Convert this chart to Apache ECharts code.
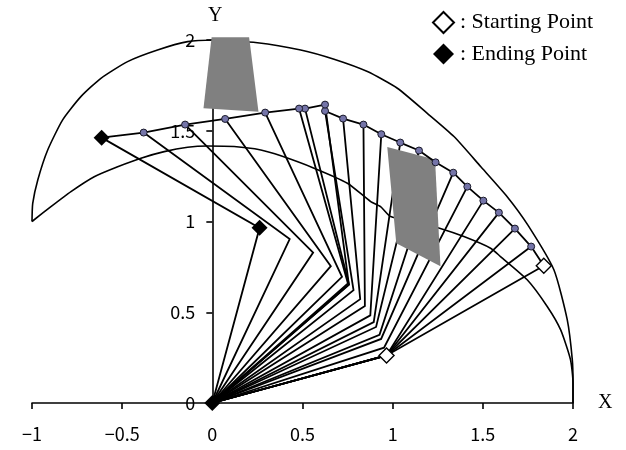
<!DOCTYPE html>
<html><head><meta charset="utf-8">
<script src="https://cdn.jsdelivr.net/npm/echarts@6/dist/echarts.min.js"></script>
<style>html,body{margin:0;padding:0;background:#fff}#c{width:626px;height:450px}</style>
</head><body><div id="c"></div>
<script>
// tick labels
const xTickValues = [-1, -0.5, 0, 0.5, 1, 1.5, 2];
const xTickLabels = ['\u22121', '\u22120.5', '0', '0.5', '1', '1.5', '2'];
const yTickValues = [0, 0.5, 1, 1.5, 2];
const yTickLabels = ['0', '0.5', '1', '1.5', '2'];

// end-effector positions (start -> end)
const endX = [1.838,1.768,1.678,1.589,1.503,1.414,1.336,1.238,1.146,1.042,0.937,0.838,0.725,0.625,0.625,0.514,0.481,0.293,0.071,-0.151,-0.381,-0.614];
const endY = [0.756,0.862,0.961,1.049,1.115,1.192,1.269,1.326,1.391,1.435,1.481,1.534,1.567,1.609,1.644,1.622,1.622,1.600,1.565,1.534,1.490,1.462];
// elbow positions for each configuration
const elbowX = [0.966,0.966,0.966,0.966,0.966,0.952,0.936,0.927,0.908,0.895,0.876,0.846,0.820,0.783,0.757,0.758,0.752,0.719,0.657,0.559,0.429,0.262];
const elbowY = [0.262,0.262,0.262,0.262,0.262,0.305,0.353,0.376,0.419,0.446,0.483,0.534,0.572,0.622,0.653,0.652,0.659,0.695,0.754,0.829,0.903,0.965];

// workspace boundary curves
const outerX = [-1.0,-0.996,-0.968,-0.913,-0.830,-0.729,-0.618,-0.470,-0.304,-0.137,0.0,0.25,0.49,0.675,0.86,1.026,1.192,1.34,1.488,1.635,1.75,1.894,1.968,1.996,2.0,2.0];
const outerY = [1.0,1.10,1.229,1.394,1.560,1.688,1.789,1.881,1.945,1.991,2.0,1.985,1.945,1.894,1.826,1.734,1.596,1.468,1.303,1.137,0.98,0.734,0.459,0.239,0.11,0.0];
const innerX = [-1.0,-0.895,-0.784,-0.655,-0.525,-0.396,-0.267,-0.137,-0.027,0.121,0.269,0.38,0.564,0.749,0.878,0.933,0.989,1.12,1.26,1.395,1.543,1.598,1.746,1.857,1.931,1.986,2.0,2.0];
const innerY = [1.0,1.082,1.165,1.247,1.302,1.349,1.385,1.409,1.416,1.413,1.394,1.362,1.294,1.211,1.11,1.082,1.027,1.0,0.963,0.917,0.853,0.807,0.679,0.532,0.404,0.239,0.11,0.0];

// obstacles
const obstacle1X = [-0.004, 0.204, 0.256, -0.049];
const obstacle1Y = [2.015, 2.015, 1.605, 1.624];
const obstacle2X = [0.970, 1.235, 1.265, 1.020];
const obstacle2Y = [1.410, 1.342, 0.754, 0.880];

// marker points
const startX = [0.966, 1.838];
const startY = [0.262, 0.756];
const finishX = [0, 0.262, -0.614];
const finishY = [0, 0.965, 1.462];

const obstacles = [[obstacle1X, obstacle1Y], [obstacle2X, obstacle2Y]];
const zip = (a, b) => a.map((v, i) => [v, b[i]]);

const chart = echarts.init(document.getElementById('c'), null, {renderer: 'canvas'});
const labelFont = 'Noto Sans CJK JP';
const gridLeft = 32, gridRight = 53;
const plotW = 626 - gridLeft - gridRight;
chart.setOption({
  animation: false,
  backgroundColor: '#fff',
  grid: {left: gridLeft, right: gridRight, top: 40, bottom: 47, containLabel: false, outerBoundsMode: 'none'},
  legend: {
    orient: 'vertical', left: 427, top: 6, itemWidth: 21, itemHeight: 21, itemGap: 9,
    data: ['Starting Point', 'Ending Point'],
    formatter: n => ': ' + n,
    textStyle: {fontFamily: 'Liberation Serif', fontSize: 22, color: '#000', padding: [0, 0, 0, 1]},
    selectedMode: false
  },
  xAxis: {
    type: 'value', min: -1, max: 2, interval: 0.5,
    name: 'X', nameLocation: 'end', nameGap: 25,
    nameTextStyle: {fontFamily: 'Liberation Serif', fontSize: 20, color: '#000', verticalAlign: 'middle'},
    axisLine: {onZero: true, lineStyle: {color: '#000', width: 1.6}},
    axisTick: {show: true, inside: false, length: 6, lineStyle: {color: '#000', width: 1.6}},
    axisLabel: {fontFamily: labelFont, fontSize: 18, color: '#000', margin: 22,
      formatter: v => { const i = xTickValues.indexOf(v); return i >= 0 ? xTickLabels[i] : ''; }},
    splitLine: {show: false}
  },
  yAxis: {
    type: 'value', min: 0, max: 2, interval: 0.5, position: 'left',
    offset: -plotW / 3,
    name: 'Y', nameLocation: 'end', nameGap: 14,
    nameTextStyle: {fontFamily: 'Liberation Serif', fontSize: 20, color: '#000', padding: [0, 0, 0, 6]},
    axisLine: {onZero: false, lineStyle: {color: '#000', width: 1.6}},
    axisTick: {show: true, inside: false, length: 6, lineStyle: {color: '#000', width: 1.6}},
    axisLabel: {fontFamily: labelFont, fontSize: 18, color: '#000', margin: 17,
      formatter: v => { const i = yTickValues.indexOf(v); return i >= 0 ? yTickLabels[i] : ''; }},
    splitLine: {show: false}
  },
  series: [
    {type: 'line', name: 'outer', data: zip(outerX, outerY), showSymbol: false, smooth: 0.2,
      lineStyle: {color: '#000', width: 1.6}, z: 1, silent: true},
    {type: 'line', name: 'inner', data: zip(innerX, innerY), showSymbol: false, smooth: 0.2,
      lineStyle: {color: '#000', width: 1.6}, z: 1, silent: true},
    {type: 'lines', coordinateSystem: 'cartesian2d', polyline: true, silent: true, z: 2,
      lineStyle: {color: '#000', width: 1.8, opacity: 1},
      data: endX.map((x, i) => ({coords: [[0, 0], [elbowX[i], elbowY[i]], [x, endY[i]]]}))},
    {type: 'custom', name: 'obstacles', z: 3, silent: true, clip: false,
      data: obstacles.map((o, i) => [i, i]),
      renderItem: (params, api) => {
        const o = obstacles[params.dataIndex];
        const pts = o[0].map((x, k) => api.coord([x, o[1][k]]));
        return {type: 'polygon', shape: {points: pts}, style: {fill: '#808080'}};
      }},
    {type: 'line', name: 'path', data: zip(endX, endY), symbol: 'circle', symbolSize: 7, showAllSymbol: true,
      itemStyle: {color: '#7474a8', borderColor: '#1a1a2a', borderWidth: 1},
      lineStyle: {color: '#000', width: 1.8}, z: 4, silent: true},
    {type: 'scatter', name: 'Starting Point', data: zip(startX, startY), symbol: 'diamond', symbolSize: 15,
      itemStyle: {color: '#fff', borderColor: '#000', borderWidth: 1.4, opacity: 1}, z: 5, silent: true},
    {type: 'scatter', name: 'Ending Point', data: zip(finishX, finishY), symbol: 'diamond', symbolSize: 16,
      itemStyle: {color: '#000', borderColor: '#000', borderWidth: 0, opacity: 1}, z: 5, silent: true}
  ]
});
</script></body></html>
